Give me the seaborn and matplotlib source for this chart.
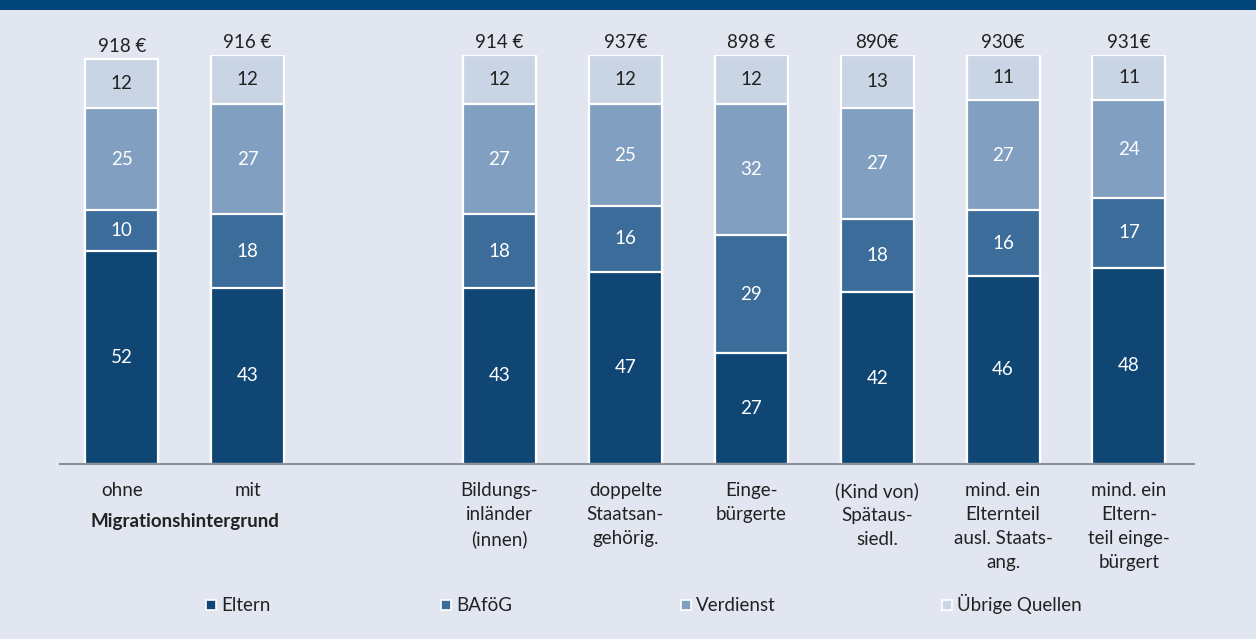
import numpy as np
import pandas as pd
import matplotlib.pyplot as plt
from matplotlib.patches import Rectangle
import seaborn as sns

# Data
positions = [0, 1, 3, 4, 5, 6, 7, 8]
groups = ["ohne", "mit", "Bildungs-\ninländer\n(innen)", "doppelte\nStaatsan-\ngehörig.",
          "Einge-\nbürgerte", "(Kind von)\nSpätaus-\nsiedl.", "mind. ein\nElternteil\nausl. Staats-\nang.",
          "mind. ein\nEltern-\nteil einge-\nbürgert"]
totals = ["918 €", "916 €", "914 €", "937€", "898 €", "890€", "930€", "931€"]
eltern = [52, 43, 43, 47, 27, 42, 46, 48]
bafoeg = [10, 18, 18, 16, 29, 18, 16, 17]
verdienst = [25, 27, 27, 25, 32, 27, 27, 24]
uebrige = [12, 12, 12, 12, 12, 13, 11, 11]

series = ["Eltern", "BAföG", "Verdienst", "Übrige Quellen"]
colors = ["#0f4674", "#3b6c9a", "#819fc0", "#c9d4e5"]
bg = "#e1e6f0"
fs = 13.5

sns.set_theme(style="white")
plt.rcParams["font.family"] = ["Lato", "DejaVu Sans"]

df = pd.DataFrame({"pos": positions, "Eltern": eltern, "BAföG": bafoeg,
                   "Verdienst": verdienst, "Übrige Quellen": uebrige})
cum = df[series].cumsum(axis=1)

W, H = 1256, 639
fig = plt.figure(figsize=(W / 100, H / 100), dpi=100, facecolor=bg)
ax = fig.add_axes([0.0478, 0.274, 0.9032, 0.640])
ax.set_facecolor(bg)

# stacked bars: draw cumulative layers from top down
for s, c in reversed(list(zip(series, colors))):
    sns.barplot(x=df["pos"], y=cum[s], native_scale=True, color=c, width=0.58,
                edgecolor="white", linewidth=1.6, saturation=1, ax=ax)

# segment labels
for i, p in enumerate(positions):
    bottom = 0
    for s in series:
        v = df[s][i]
        tc = "#222222" if s == "Übrige Quellen" else "white"
        ax.text(p, bottom + v / 2, str(v), ha="center", va="center", fontsize=fs, color=tc)
        bottom += v
    ax.text(p, bottom + 1.0, totals[i], ha="center", va="bottom", fontsize=fs,
            color="#222222", clip_on=False)

ax.set_xlim(-0.49, 8.52)
ax.set_ylim(0, 100)
ax.set_xticks(positions)
ax.set_xticklabels(groups, fontsize=fs, color="#222222", linespacing=1.5)
ax.tick_params(axis="x", length=0, pad=13)
ax.set_yticks([])
ax.set_xlabel("")
ax.set_ylabel("")
for sp in ["top", "left", "right"]:
    ax.spines[sp].set_visible(False)
ax.spines["bottom"].set_color("#8c9099")
ax.spines["bottom"].set_linewidth(1.5)

fig.text(185 / W, 1 - 521 / H, "Migrationshintergrund", ha="center", va="center",
         fontsize=fs, fontweight="bold", color="#222222")

# top banner
fig.patches.append(Rectangle((0, 1 - 10 / H), 1, 10 / H, transform=fig.transFigure,
                             facecolor="#00467a", edgecolor="none"))

# legend: square markers + labels
legend_x = [206, 441, 681, 942]
ly = 605
for lab, c, lx in zip(series, colors, legend_x):
    fig.patches.append(Rectangle((lx / W, 1 - (ly + 5) / H), 10 / W, 10 / H,
                                 transform=fig.transFigure, facecolor=c,
                                 edgecolor="white", linewidth=1.2))
    fig.text((lx + 15) / W, 1 - (ly + 6) / H, lab, ha="left", va="baseline",
             fontsize=fs, color="#222222")

fig.savefig("out.png", dpi=100, facecolor=bg)
